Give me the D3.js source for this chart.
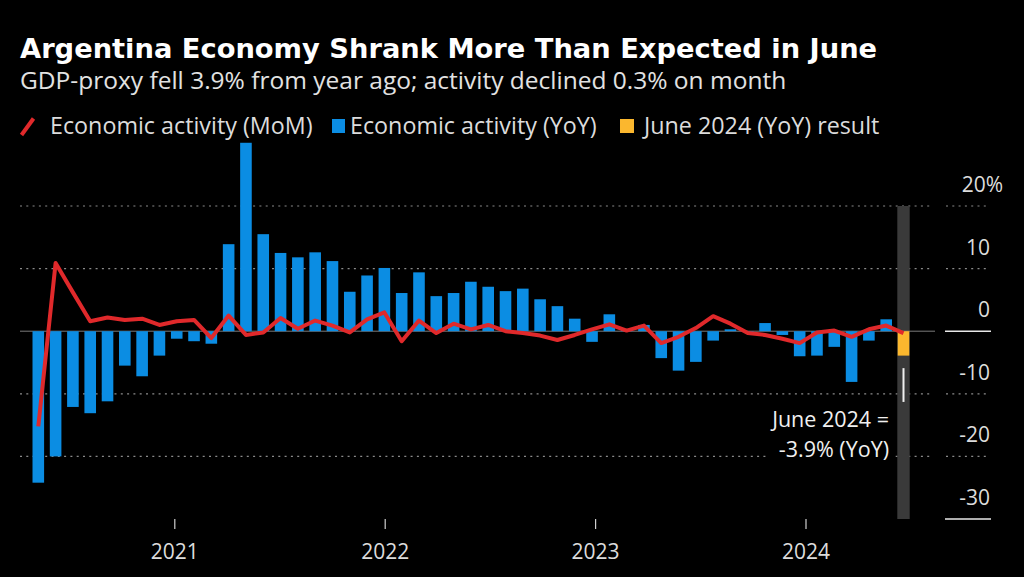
<!DOCTYPE html>
<html>
<head>
<meta charset="utf-8">
<script src="https://cdn.jsdelivr.net/npm/d3@7"></script>
<style>
  html, body { margin: 0; padding: 0; background: #000; }
  svg { display: block; }
</style>
</head>
<body>
<script>
// ---------------- DATA ----------------
const months = [
  "2020-04","2020-05","2020-06","2020-07","2020-08","2020-09","2020-10","2020-11","2020-12",
  "2021-01","2021-02","2021-03","2021-04","2021-05","2021-06","2021-07","2021-08","2021-09","2021-10","2021-11","2021-12",
  "2022-01","2022-02","2022-03","2022-04","2022-05","2022-06","2022-07","2022-08","2022-09","2022-10","2022-11","2022-12",
  "2023-01","2023-02","2023-03","2023-04","2023-05","2023-06","2023-07","2023-08","2023-09","2023-10","2023-11","2023-12",
  "2024-01","2024-02","2024-03","2024-04","2024-05","2024-06"
];
// Economic activity, year-over-year %
const yoy = [
  -24.2, -20.0, -12.1, -13.1, -11.2, -5.5, -7.2, -3.9, -1.2,
  -1.6, -2.0, 13.9, 30.1, 15.5, 12.5, 11.8, 12.6, 11.2, 6.3, 8.9, 10.1,
  6.1, 9.4, 5.6, 6.1, 7.9, 7.1, 6.4, 6.8, 5.1, 4.0, 2.0, -1.7,
  2.7, 0.3, 1.0, -4.3, -6.3, -4.9, -1.5, 0.3, -0.1, 1.3, -0.6, -4.0,
  -3.9, -2.5, -8.1, -1.5, 1.9, -3.9
];
// Economic activity, month-over-month %
const mom = [
  -15.2, 10.9, 6.2, 1.6, 2.2, 1.8, 2.0, 1.0, 1.6,
  1.8, -1.1, 2.5, -0.6, -0.2, 2.1, 0.4, 1.7, 0.9, -0.2, 1.9, 3.0,
  -1.6, 1.7, -0.3, 1.2, 0.3, 1.0, 0.0, -0.3, -0.7, -1.4, -0.6, 0.3,
  1.1, 0.1, 0.9, -1.9, -0.9, 0.5, 2.4, 1.2, -0.3, -0.6, -1.2, -1.9,
  -0.2, 0.1, -0.9, 0.3, 0.9, -0.3
];
const yTicks = [-30, -20, -10, 0, 10, 20];
const yTickLabels = ["-30", "-20", "-10", "0", "10", "20%"];
const xTickYears = ["2021", "2022", "2023", "2024"];

const titleText = "Argentina Economy Shrank More Than Expected in June";
const subtitleText = "GDP-proxy fell 3.9% from year ago; activity declined 0.3% on month";
const legendLabels = ["Economic activity (MoM)", "Economic activity (YoY)", "June 2024 (YoY) result"];
const annotationLines = ["June 2024 =", "-3.9% (YoY)"];

// ---------------- STYLE ----------------
const RED = "#e0292b", BLUE = "#0b8de3", YELLOW = "#fbb72e", BAND = "#3a3a3a";
const FONT = "'Open Sans', 'Noto Sans', sans-serif";

const W = 1024, H = 577;
const svg = d3.select("body").append("svg")
  .attr("width", W).attr("height", H)
  .style("background", "#000");

svg.append("rect").attr("width", W).attr("height", H).attr("fill", "#000");

// ---------------- SCALES ----------------
const y = d3.scaleLinear().domain([-30, 20]).range([519, 206]);
const xb = d3.scaleBand().domain(months).range([29.65, 912.15])
  .paddingInner(0.33).paddingOuter(0.165);
const xt = d3.scaleTime()
  .domain([new Date(2021, 0, 1), new Date(2024, 0, 1)])
  .range([174.3, 805.5]);
const bw = xb.bandwidth();
const cx = m => xb(m) + bw / 2;

// ---------------- TITLE / SUBTITLE ----------------
svg.append("text").attr("x", 20).attr("y", 58)
  .attr("font-family", "'DejaVu Sans', sans-serif").attr("font-weight", "bold")
  .attr("font-size", 27.3).attr("fill", "#fff").text(titleText);
svg.append("text").attr("x", 20).attr("y", 89)
  .attr("font-family", FONT).attr("font-size", 24.5).attr("fill", "#e2e2e2")
  .text(subtitleText);

// ---------------- LEGEND ----------------
const lg = svg.append("g").attr("font-family", FONT).attr("font-size", 23.3).attr("fill", "#dcdcdc");
lg.append("line").attr("x1", 21.5).attr("y1", 135).attr("x2", 33.5).attr("y2", 118.5)
  .attr("stroke", RED).attr("stroke-width", 4);
lg.append("text").attr("x", 50).attr("y", 134).text(legendLabels[0]);
lg.append("rect").attr("x", 332).attr("y", 119).attr("width", 13).attr("height", 14).attr("fill", BLUE);
lg.append("text").attr("x", 350).attr("y", 134).text(legendLabels[1]);
lg.append("rect").attr("x", 620).attr("y", 119).attr("width", 14).attr("height", 14).attr("fill", YELLOW);
lg.append("text").attr("x", 644).attr("y", 134).text(legendLabels[2]);

// ---------------- GRID ----------------
const grid = svg.append("g");
yTicks.forEach(v => {
  if (v === 0 || v === -30) return;
  grid.append("line").attr("x1", 20).attr("x2", 932).attr("y1", y(v)).attr("y2", y(v))
    .attr("stroke", "#8a8a8a").attr("stroke-width", 1.2).attr("stroke-dasharray", "2,4.3");
  grid.append("line").attr("x1", 946).attr("x2", 990).attr("y1", y(v)).attr("y2", y(v))
    .attr("stroke", "#8a8a8a").attr("stroke-width", 1.2).attr("stroke-dasharray", "2,4.3");
});
// highlight band behind last bar
const last = months[months.length - 1];
svg.append("rect").attr("x", xb(last) - 0.4).attr("width", bw + 0.8)
  .attr("y", y(20)).attr("height", y(-30) - y(20)).attr("fill", BAND);

// zero line
svg.append("line").attr("x1", 20).attr("x2", 935).attr("y1", y(0)).attr("y2", y(0))
  .attr("stroke", "#7a7a7a").attr("stroke-width", 1);
[0, -30].forEach(v => {
  svg.append("line").attr("x1", 945).attr("x2", 991).attr("y1", y(v)).attr("y2", y(v))
    .attr("stroke", "#e8e8e8").attr("stroke-width", 1.5);
});

// ---------------- BARS ----------------
svg.append("g").selectAll("rect").data(months).join("rect")
  .attr("x", d => xb(d))
  .attr("width", bw)
  .attr("y", (d, i) => y(Math.max(0, yoy[i])))
  .attr("height", (d, i) => Math.abs(y(yoy[i]) - y(0)))
  .attr("fill", (d, i) => i === months.length - 1 ? YELLOW : BLUE);

// ---------------- LINE ----------------
const line = d3.line().x((d, i) => cx(months[i])).y(d => y(d));
svg.append("path").datum(mom).attr("d", line)
  .attr("fill", "none").attr("stroke", RED).attr("stroke-width", 4)
  .attr("stroke-linejoin", "round").attr("stroke-linecap", "butt");

// ---------------- Y LABELS ----------------
const yl = svg.append("g").attr("font-family", FONT).attr("font-size", 21).attr("fill", "#dcdcdc");
yTicks.forEach((v, i) => {
  const isTop = i === yTicks.length - 1;
  yl.append("text").attr("x", isTop ? 1003 : 990).attr("y", y(v) - 14)
    .attr("text-anchor", "end").text(yTickLabels[i]);
});

// ---------------- X AXIS ----------------
const xAxis = d3.axisBottom(xt)
  .tickValues(xTickYears.map(s => d3.timeParse("%Y")(s)))
  .tickFormat(d3.timeFormat("%Y"))
  .tickSize(10).tickPadding(15);
const gx = svg.append("g").attr("transform", `translate(0,${y(-30)})`).call(xAxis);
gx.select(".domain").remove();
gx.selectAll(".tick line").attr("stroke", "#cfcfcf").attr("stroke-width", 1.2);
gx.selectAll(".tick text").attr("fill", "#dcdcdc").attr("font-family", FONT).attr("font-size", 21);

// ---------------- ANNOTATION ----------------
const ax = cx(last);
svg.append("line").attr("x1", ax).attr("x2", ax).attr("y1", y(-5.9)).attr("y2", y(-11.3))
  .attr("stroke", "#f0f0f0").attr("stroke-width", 2);
const ann = svg.append("g").attr("font-family", FONT).attr("font-size", 21.5).attr("fill", "#f0f0f0");
const annTexts = annotationLines.map((t, i) =>
  ann.append("text").attr("x", 889).attr("y", 427 + i * 29.5).attr("text-anchor", "end").text(t));
// black box behind annotation text so the grid is hidden under it
let bb = null;
annTexts.forEach(t => {
  const b = t.node().getBBox();
  if (!bb) bb = { x0: b.x, y0: b.y, x1: b.x + b.width, y1: b.y + b.height };
  else { bb.x0 = Math.min(bb.x0, b.x); bb.y0 = Math.min(bb.y0, b.y);
         bb.x1 = Math.max(bb.x1, b.x + b.width); bb.y1 = Math.max(bb.y1, b.y + b.height); }
});
ann.insert("rect", "text").attr("x", bb.x0 - 3).attr("y", bb.y0 + 4)
  .attr("width", bb.x1 - bb.x0 + 6).attr("height", bb.y1 - bb.y0 - 6).attr("fill", "#000");
</script>
</body>
</html>
